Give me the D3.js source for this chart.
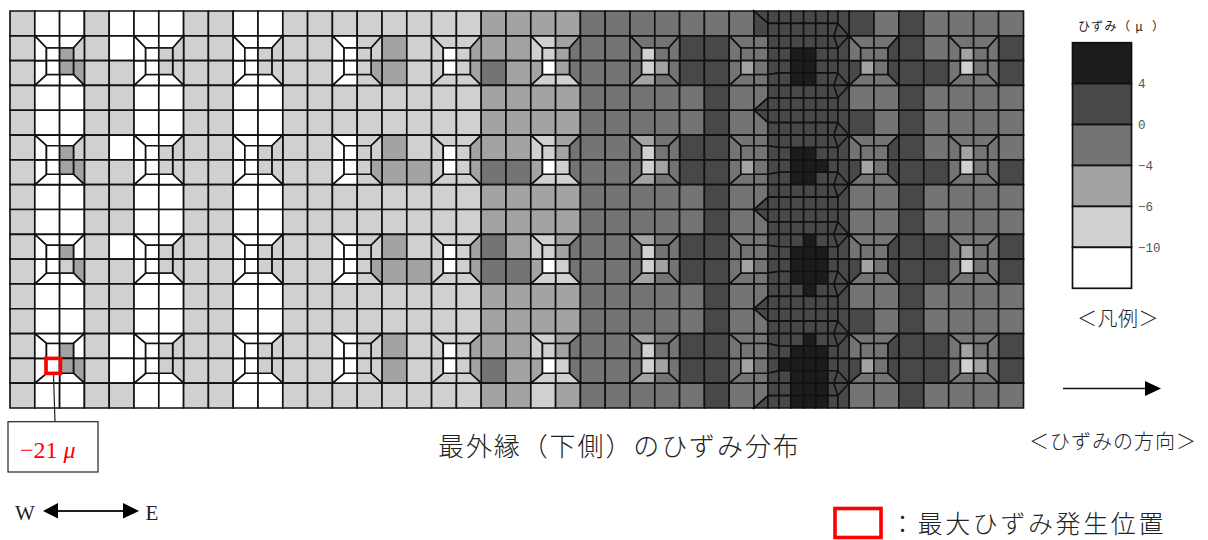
<!DOCTYPE html>
<html lang="ja">
<head>
<meta charset="utf-8">
<title>最外縁（下側）のひずみ分布</title>
<script src="https://cdn.jsdelivr.net/npm/d3@7"></script>
<style>
	html, body { margin: 0; padding: 0; background: #fff; }
	svg { display: block; }
	.mesh { stroke: #111; stroke-width: 1.65; stroke-linejoin: miter; }
	.jp { font-family: "Noto Sans CJK JP", sans-serif; font-weight: 300; fill: #222; }
	.latin { font-family: "Liberation Serif", serif; fill: #222; }
</style>
</head>
<body>
<div id="chart"></div>
<script>
// band midpoints, the picture only gives the legend class of a cell
const W = -12, L = -8, M = -5, D = -2, K = 2, B = 6, _ = null;

// legend
const legendLimits	= [-10, -6, -4, 0, 4];
const legendGreys	= ['#ffffff', '#d0d0d0', '#a3a3a3', '#747474', '#484848', '#1c1c1c'];
const legendTicks	= ['4', '0', '\u22124', '\u22126', '\u221210'];

// plain cells, 16 rows x 41 columns, null where a capital or the fine mesh sits
const row0  = [L,W,W,L,W,W,W,L,L,W,W,L,L,L,L,L,L,L,L,M,M,M,M,D,D,D,D,D,D,D,_,_,_,_,K,D,K,D,D,D,D];
const row1  = [L,_,_,L,W,_,_,L,L,_,_,L,L,_,_,M,L,_,_,M,M,_,_,D,D,_,_,K,K,_,_,_,_,_,_,_,K,D,_,_,K];
const row2  = [L,_,_,L,L,_,_,L,L,_,_,L,L,_,_,M,L,_,_,D,M,_,_,D,D,_,_,K,K,_,_,_,_,_,_,_,K,K,_,_,K];
const row3  = [L,W,W,L,L,W,W,L,L,W,W,L,L,L,L,L,L,L,L,M,M,M,M,D,D,D,D,D,K,D,_,_,_,_,D,D,K,D,D,D,D];
const row4  = [L,W,W,L,L,W,W,L,L,W,W,L,L,L,L,L,L,L,L,M,M,M,M,D,D,D,D,D,K,D,_,_,_,_,K,D,K,D,D,D,D];
const row5  = [L,_,_,L,W,_,_,L,L,_,_,L,L,_,_,M,L,_,_,M,M,_,_,D,D,_,_,K,K,_,_,_,_,_,_,_,K,D,_,_,D];
const row6  = [L,_,_,L,L,_,_,L,L,_,_,L,L,_,_,M,M,_,_,D,D,_,_,D,D,_,_,K,K,_,_,_,_,_,_,_,K,K,_,_,K];
const row7  = [L,W,W,L,L,W,W,L,L,W,W,L,L,L,L,L,L,L,L,M,M,M,M,D,D,D,D,D,K,D,_,_,_,_,D,D,K,D,D,D,D];
const row8  = [L,W,W,L,L,W,W,L,L,W,W,L,L,L,L,L,L,L,L,M,M,M,M,D,D,D,D,D,K,D,_,_,_,_,D,D,K,D,D,D,D];
const row9  = [L,_,_,L,W,_,_,L,L,_,_,L,L,_,_,M,L,_,_,D,M,_,_,D,D,_,_,K,K,_,_,_,_,_,_,_,K,K,_,_,K];
const row10 = [L,_,_,L,L,_,_,L,L,_,_,L,L,_,_,M,M,_,_,D,D,_,_,D,D,_,_,K,K,_,_,_,_,_,_,_,K,K,_,_,K];
const row11 = [L,W,W,L,L,W,W,L,L,W,W,L,L,L,L,L,L,L,L,M,M,M,M,D,D,D,D,D,K,D,_,_,_,_,D,D,K,D,D,D,D];
const row12 = [L,W,W,L,L,W,W,L,L,W,W,L,L,L,L,L,L,L,L,M,M,M,M,D,D,D,D,D,K,D,_,_,_,_,K,D,K,D,D,D,D];
const row13 = [L,_,_,L,W,_,_,L,L,_,_,L,L,_,_,M,L,_,_,M,M,_,_,D,D,_,_,K,K,_,_,_,_,_,_,_,K,K,_,_,K];
const row14 = [L,_,_,L,W,_,_,L,L,_,_,L,L,_,_,M,L,_,_,D,M,_,_,D,D,_,_,K,K,_,_,_,_,_,_,_,K,K,_,_,K];
const row15 = [L,W,W,L,L,W,W,L,L,W,W,L,L,L,L,L,L,L,L,M,M,L,M,D,D,D,D,D,K,D,_,_,_,_,D,D,K,D,D,D,D];
const plainRows = [row0, row1, row2, row3, row4, row5, row6, row7, row8, row9, row10, row11, row12, row13, row14, row15];

// capitals: top l/r, right t/b, bottom r/l, left b/t, then inner tl, tr, bl, br
const capCols = [1, 5, 9, 13, 17, 21, 25, 29, 34, 38];
const capRows = [1, 5, 9, 13];
const cap1  = [
	[W,W,L,M,W,W,W,W,W,M,W,M],
	[W,W,L,M,W,W,W,W,W,M,W,M],
	[W,W,W,M,W,W,W,W,W,M,W,L],
	[W,W,W,M,W,W,W,W,W,M,W,M]];
const cap5  = [
	[W,W,L,L,W,W,W,W,W,L,W,L],
	[W,W,L,L,W,W,W,W,W,L,W,L],
	[W,W,L,L,W,W,W,W,W,L,W,L],
	[W,W,L,L,W,W,W,W,W,L,W,L]];
const cap9  = [
	[W,W,L,L,W,W,W,W,W,L,W,L],
	[W,W,L,L,W,W,W,W,W,L,W,L],
	[W,W,L,L,W,W,W,W,W,L,W,L],
	[W,W,L,L,W,W,W,W,W,L,W,L]];
const cap13 = [
	[W,L,L,M,L,W,W,W,W,L,W,L],
	[W,L,L,M,L,W,W,W,W,L,W,L],
	[W,L,L,M,L,W,W,W,W,L,W,L],
	[W,L,L,L,L,W,W,W,W,L,W,L]];
const cap17 = [
	[L,L,M,M,L,L,L,L,W,L,W,L],
	[L,L,M,M,L,L,L,L,W,L,W,L],
	[L,L,M,M,L,L,L,L,W,L,W,L],
	[L,L,M,M,L,L,L,L,W,L,W,L]];
const cap21 = [
	[L,M,D,D,L,L,M,L,L,M,W,M],
	[L,M,D,D,L,L,M,L,L,M,W,L],
	[L,M,D,D,L,L,M,L,L,M,W,L],
	[L,M,D,D,L,L,M,L,L,M,W,L]];
const cap25 = [
	[D,D,D,D,D,M,D,D,L,D,L,M],
	[M,D,D,D,D,M,D,D,L,D,L,M],
	[M,D,D,D,D,M,D,D,L,D,L,M],
	[M,D,D,D,D,M,D,D,L,D,L,M]];
const cap29 = [
	[D,D,D,D,D,D,D,D,D,D,M,D],
	[D,D,D,D,D,D,D,D,D,D,M,D],
	[D,D,D,D,D,D,D,D,D,D,M,D],
	[D,D,D,D,D,D,D,D,D,D,M,D]];
const cap34 = [
	[D,D,K,K,D,D,K,D,D,D,M,D],
	[D,D,K,K,D,D,K,D,D,D,M,D],
	[D,D,K,K,D,D,K,D,D,D,M,D],
	[D,D,K,K,D,D,K,D,D,D,M,D]];
const cap38 = [
	[D,D,D,D,D,D,D,D,M,D,L,D],
	[D,D,D,D,D,D,D,D,M,D,L,D],
	[D,D,D,D,D,D,D,D,M,D,L,D],
	[D,D,D,D,D,D,D,D,M,D,L,M]];
const capValues = [cap1, cap5, cap9, cap13, cap17, cap21, cap25, cap29, cap34, cap38];

// fine mesh around the middle, half rows x 7 columns
const fineRows = [
	[K,K,K,K,K,K,K], [K,K,K,K,K,K,K], [K,K,K,K,K,K,K], [K,K,B,B,K,K,K],
	[K,K,B,B,K,K,K], [K,K,B,B,K,K,K], [K,K,K,K,K,K,K], [K,K,K,K,K,K,K],
	[K,K,K,K,K,K,K], [K,K,K,K,K,K,K], [K,K,K,K,K,K,K], [K,K,B,B,K,K,K],
	[K,K,B,B,B,K,K], [K,K,B,B,K,K,K], [K,K,K,K,K,K,K], [K,K,K,K,K,K,K],
	[K,K,K,K,K,K,K], [K,K,K,K,K,K,K], [K,K,K,B,K,K,K], [K,K,B,B,B,K,K],
	[K,K,B,B,B,K,K], [K,K,B,B,B,K,K], [K,K,K,B,K,K,K], [K,K,K,K,K,K,K],
	[K,K,K,K,K,K,K], [K,K,K,K,K,K,K], [K,K,K,B,K,K,K], [K,K,B,B,B,K,K],
	[K,B,B,B,B,K,K], [K,K,B,B,B,K,K], [K,K,B,B,B,K,K], [K,K,B,B,B,K,K]];
const kiteRows = [1, 3, 5, 7, 9, 11, 13, 15];
const wedgeRows = [4, 8, 12];

// mesh lines of the fine part, in column units
const fineEdges = [30.59, 31.05, 31.55, 32.09, 32.6, 33.11, 33.53, 34];
const capInsetTop = [0.49, 0.43, 0.44, 0.4];
const capInsetBottom = [0.44, 0.42, 0.44, 0.4];

function createChart() {
	let canvasWidth		= 1208;
	let canvasHeight	= 540;

	let x 		= d3.scaleLinear().domain([0, 30, 34, 41]).range([10, 754, 849, 1023.5]);
	let y 		= d3.scaleLinear().domain([0, 16]).range([11, 408]);
	let color	= d3.scaleThreshold().domain(legendLimits).range(legendGreys);
	let shape	= d3.line().x((o) => (x(o[0]))).y((o) => (y(o[1])));

	let svg = d3.select("#chart").append("svg")
		.attr("width", canvasWidth)
		.attr("height", canvasHeight);

	let mesh = svg.append('g').attr('id', 'mesh');

	function addCell(points, value) {
		mesh.append('path')
			.attr('class', 'mesh')
			.attr('d', shape(points) + 'Z')
			.attr('fill', color(value));
	}

	// half rows that end on a capital bend towards its inner square
	function fineLeft(h) {
		let hit = h;
		capRows.forEach((row, j) => {
			if (h === row + 0.5) { hit = row + capInsetTop[j]; }
			if (h === row + 1.5) { hit = row + 2 - capInsetBottom[j]; }
		});
		return hit;
	}

	// plain cells
	plainRows.forEach((row, r) => {
		row.forEach((value, c) => {
			if (value === null) { return; }
			addCell([[c, r], [c + 1, r], [c + 1, r + 1], [c, r + 1]], value);
		});
	});

	// capitals, split in twelve
	capCols.forEach((col, i) => {
		capRows.forEach((row, j) => {
			let v	= capValues[i][j];
			let x0	= col;
			let xm	= col + 1;
			let x2	= col === 29 ? fineEdges[0] : col + 2;
			let a	= col + 0.47;
			let b	= col === 29 ? fineEdges[0] : col + 1.56;
			let y0	= row;
			let ym	= row + 1;
			let y2	= row + 2;
			let c	= row + capInsetTop[j];
			let d	= row + 2 - capInsetBottom[j];

			addCell([[x0, y0], [xm, y0], [xm, c], [a, c]], v[0]);
			addCell([[xm, y0], [x2, y0], [b, c], [xm, c]], v[1]);
			addCell([[x2, y0], [x2, ym], [b, ym], [b, c]], v[2]);
			addCell([[x2, ym], [x2, y2], [b, d], [b, ym]], v[3]);
			addCell([[x2, y2], [xm, y2], [xm, d], [b, d]], v[4]);
			addCell([[xm, y2], [x0, y2], [a, d], [xm, d]], v[5]);
			addCell([[x0, y2], [x0, ym], [a, ym], [a, d]], v[6]);
			addCell([[x0, ym], [x0, y0], [a, c], [a, ym]], v[7]);
			addCell([[a, c], [xm, c], [xm, ym], [a, ym]], v[8]);
			addCell([[xm, c], [b, c], [b, ym], [xm, ym]], v[9]);
			addCell([[a, ym], [xm, ym], [xm, d], [a, d]], v[10]);
			addCell([[xm, ym], [b, ym], [b, d], [xm, d]], v[11]);
		});
	});

	// wedges where the fine mesh meets the coarse one
	let s = fineEdges[0];
	addCell([[30, 0], [s, 0], [s, 0.5]], K);
	addCell([[30, 0], [s, 0.5], [s, 1], [30, 1]], K);
	wedgeRows.forEach((r) => {
		addCell([[30, r - 1], [s, r - 1], [s, r - 0.5], [30, r]], D);
		addCell([[30, r], [s, r - 0.5], [s, r]], K);
		addCell([[30, r], [s, r], [s, r + 0.5]], K);
		addCell([[30, r], [s, r + 0.5], [s, r + 1], [30, r + 1]], D);
	});
	addCell([[30, 15], [s, 15], [s, 15.5], [30, 16]], D);
	addCell([[30, 16], [s, 15.5], [s, 16]], K);

	// fine mesh, last column only splits on full rows
	fineRows.forEach((row, r) => {
		row.forEach((value, c) => {
			if (c === 6) { return; }
			let top		= r / 2;
			let bottom	= (r + 1) / 2;
			let leftTop		= c === 0 ? fineLeft(top) : top;
			let leftBottom	= c === 0 ? fineLeft(bottom) : bottom;
			addCell([[fineEdges[c], leftTop], [fineEdges[c + 1], top], [fineEdges[c + 1], bottom], [fineEdges[c], leftBottom]], value);
		});
	});
	d3.range(16).forEach((r) => {
		addCell([[fineEdges[6], r], [fineEdges[7], r], [fineEdges[7], r + 1], [fineEdges[6], r + 1]], fineRows[r * 2][6]);
	});

	// kites on the column line at 34
	kiteRows.forEach((r) => {
		addCell([[33.36, r], [fineEdges[6], r - 0.5], [34, r]], K);
		addCell([[33.36, r], [34, r], [fineEdges[6], r + 0.5]], K);
	});

	// legend
	let legendBand = d3.scaleBand().domain(d3.range(6)).range([42.7, 288.3]);
	let legend = svg.append('g').attr('id', 'legend');

	legend.selectAll('rect')
		.data(legendGreys.slice().reverse())
		.enter().append('rect')
			.attr('x', 1072.5)
			.attr('y', (o, i) => (legendBand(i)))
			.attr('width', 59)
			.attr('height', legendBand.bandwidth())
			.attr('fill', (o) => (o))
			.attr('stroke', '#111')
			.attr('stroke-width', 1.7);

	let legendAxis = d3.scalePoint().domain(legendTicks).range([83.6, 247.3]);
	legend.append('g')
		.attr('transform', 'translate(1131,0)')
		.call(d3.axisRight(legendAxis).tickSize(0).tickPadding(7))
		.call((g) => g.select('.domain').remove())
		.selectAll('text')
			.attr('fill', '#555')
			.attr('font-family', '"Liberation Mono", monospace')
			.attr('font-size', 12.5);

	svg.append('text')
		.attr('class', 'jp')
		.attr('x', 1078)
		.attr('y', 31)
		.attr('font-size', 12)
		.attr('letter-spacing', 1.3)
		.style('font-weight', 400)
		.attr('xml:space', 'preserve')
		.text('ひずみ（ μ  ）');

	addText('＜凡例＞', 1077, 326, 20, 0.5);
	addText('最外縁（下側）のひずみ分布', 438, 455.5, 26, 1.9);
	addText('＜ひずみの方向＞', 1029, 448.5, 20, 1);
	addText('：最大ひずみ発生位置', 890, 533, 25, 2.6);

	function addText(label, left, base, size, spacing) {
		svg.append('text')
			.attr('class', 'jp')
			.attr('x', left)
			.attr('y', base)
			.attr('font-size', size)
			.attr('letter-spacing', spacing)
			.text(label);
	}

	// strain direction arrow
	addArrow([[1063, 388.5], [1146, 388.5]], [[1145, 381], [1161, 388.5], [1145, 396]]);

	// W - E arrow
	addArrow([[58, 511], [124, 511]], [[58, 503], [43, 511], [58, 518.5]]);
	addArrow([[58, 511], [124, 511]], [[123, 503], [139, 511], [123, 518.5]]);

	function addArrow(stem, head) {
		svg.append('line')
			.attr('x1', stem[0][0]).attr('y1', stem[0][1])
			.attr('x2', stem[1][0]).attr('y2', stem[1][1])
			.attr('stroke', '#111')
			.attr('stroke-width', 1.3);
		svg.append('path')
			.attr('d', d3.line()(head) + 'Z')
			.attr('fill', '#000');
	}

	svg.append('text').attr('class', 'latin').attr('x', 15).attr('y', 520).attr('font-size', 21).text('W');
	svg.append('text').attr('class', 'latin').attr('x', 145.5).attr('y', 520).attr('font-size', 21).text('E');

	// biggest strain marker and its label
	svg.append('line')
		.attr('x1', 53.5).attr('y1', 375)
		.attr('x2', 55).attr('y2', 422)
		.attr('stroke', '#222')
		.attr('stroke-width', 1.2);
	svg.append('rect')
		.attr('x', x(1.45))
		.attr('y', y(14))
		.attr('width', 14.5)
		.attr('height', 15)
		.attr('fill', 'none')
		.attr('stroke', '#f00')
		.attr('stroke-width', 3.6);
	svg.append('rect')
		.attr('x', 8)
		.attr('y', 421.7)
		.attr('width', 90)
		.attr('height', 50.3)
		.attr('fill', '#fff')
		.attr('stroke', '#222')
		.attr('stroke-width', 1.2);

	let tag = svg.append('text')
		.attr('class', 'latin')
		.attr('x', 20)
		.attr('y', 458)
		.attr('font-size', 24)
		.style('fill', '#f00');
	tag.append('tspan').text('\u221221 ');
	tag.append('tspan').attr('font-style', 'italic').text('μ');

	svg.append('rect')
		.attr('x', 835)
		.attr('y', 508.5)
		.attr('width', 46)
		.attr('height', 29)
		.attr('fill', 'none')
		.attr('stroke', '#f00')
		.attr('stroke-width', 3.6);
}

createChart();
</script>
</body>
</html>
